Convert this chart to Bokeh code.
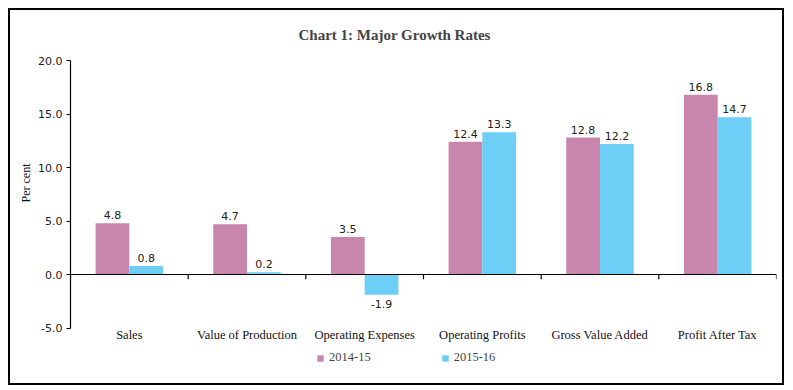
from bokeh.plotting import figure
from bokeh.models import ColumnDataSource, FixedTicker, Legend, LegendItem, Span, Title
from bokeh.embed import file_html
from bokeh.resources import INLINE
from bokeh.core.properties import value

# ---- data ----
categories = ["Sales", "Value of Production", "Operating Expenses",
              "Operating Profits", "Gross Value Added", "Profit After Tax"]
series_names = ["2014-15", "2015-16"]
values_2014_15 = [4.8, 4.7, 3.5, 12.4, 12.8, 16.8]
values_2015_16 = [0.8, 0.2, -1.9, 13.3, 12.2, 14.7]
y_ticks = [-5, 0, 5, 10, 15, 20]
title_text = "Chart 1: Major Growth Rates"
y_label = "Per cent"

colors = ["#C886AD", "#6DCFF6"]
SERIF = "Liberation Serif"
SANS = "DejaVu Sans"

n = len(categories)
centers = [i + 0.5 for i in range(n)]
bar_w = 0.287

# frame extends below the -5 line so that category labels and legend live inside it
p = figure(width=776, height=377, x_range=(0, n), y_range=(-10, y_ticks[-1]),
           output_backend="svg", toolbar_location=None,
           min_border_left=60, min_border_right=10, min_border_top=50, min_border_bottom=6)
p.styles = {"border": "2px solid black", "position": "relative", "left": "8px", "top": "8px"}

p.title.text = title_text
p.title.text_font = SERIF
p.title.text_font_size = "15px"
p.title.text_font_style = "bold"
p.title.align = "left"
p.title.offset = 228
p.title.vertical_align = "top"
p.title.standoff = 31

p.grid.visible = False
p.outline_line_color = None
p.xaxis.visible = False

renderers = []
for k, vals in enumerate([values_2014_15, values_2015_16]):
    off = (k - 0.5) * bar_w
    src = ColumnDataSource(dict(x=[c + off for c in centers], top=vals))
    r = p.vbar(x="x", top="top", bottom=0, width=bar_w, source=src,
               fill_color=colors[k], line_color=None)
    renderers.append(r)
    pos = ColumnDataSource(dict(x=[c + off for c, v in zip(centers, vals) if v >= 0],
                                y=[v for v in vals if v >= 0],
                                lab=[f"{v:.1f}" for v in vals if v >= 0]))
    neg = ColumnDataSource(dict(x=[c + off for c, v in zip(centers, vals) if v < 0],
                                y=[v for v in vals if v < 0],
                                lab=[f"{v:.1f}" for v in vals if v < 0]))
    p.text(x="x", y="y", text="lab", source=pos, text_align="center",
           text_baseline="bottom", y_offset=-4, text_font=value(SANS),
           text_font_size="11px", text_color="#222222")
    p.text(x="x", y="y", text="lab", source=neg, text_align="center",
           text_baseline="top", y_offset=5, text_font=value(SANS),
           text_font_size="11px", text_color="#222222")

# zero line with category-boundary ticks
p.add_layout(Span(location=0, dimension="width", line_color="black", line_width=1.2))
bounds = list(range(n + 1))
p.segment(x0=bounds, y0=[0] * len(bounds), x1=bounds, y1=[-0.45] * len(bounds),
          line_color="black", line_width=1.2)

# category labels under the -5 line
cat_src = ColumnDataSource(dict(x=centers, y=[y_ticks[0]] * n, lab=categories))
p.text(x="x", y="y", text="lab", source=cat_src, text_align="center",
       text_baseline="top", y_offset=0, text_font=value(SERIF),
       text_font_size="12.5px", text_color="#111111")

# y axis, drawn only from -5 to 20
p.yaxis.bounds = (y_ticks[0], y_ticks[-1])
p.yaxis.ticker = FixedTicker(ticks=y_ticks)
p.yaxis.major_label_overrides = {t: f"{t:.1f}" for t in y_ticks}
p.yaxis.minor_tick_line_color = None
p.yaxis.major_tick_in = 0
p.yaxis.major_tick_out = 4
p.yaxis.major_label_standoff = 4
p.yaxis.axis_line_color = "black"
p.yaxis.axis_line_width = 1.2
p.yaxis.major_tick_line_width = 1.2
p.yaxis.major_label_text_font = SANS
p.yaxis.major_label_text_font_size = "11px"
p.yaxis.major_label_text_color = "#222222"

# y-axis caption placed alongside the -5..20 part of the axis
p.add_layout(Title(text=y_label, align="right", offset=103, standoff=6,
                   text_font=SERIF, text_font_size="12px", text_font_style="normal",
                   text_color="#111111"), "left")

legend = Legend(items=[LegendItem(label=series_names[k], renderers=[renderers[k]]) for k in range(2)],
                orientation="horizontal", location=(246, 16),
                glyph_width=8, glyph_height=8, label_standoff=5, spacing=70,
                padding=0, margin=0, label_height=14,
                label_text_font=SERIF, label_text_font_size="12.5px",
                background_fill_alpha=0, border_line_color=None)
p.add_layout(legend, "center")

open("out.html", "w").write(file_html(p, INLINE))
